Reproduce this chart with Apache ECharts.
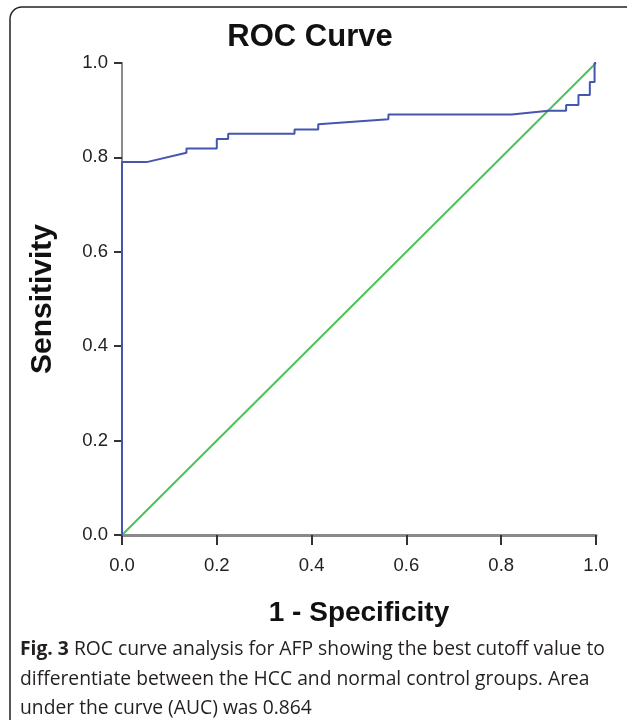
<!DOCTYPE html>
<html>
<head>
<meta charset="utf-8">
<script src="https://cdn.jsdelivr.net/npm/echarts@6/dist/echarts.min.js"></script>
<style>
html,body{margin:0;padding:0;background:#fff;}
#chart{width:627px;height:720px;}
</style>
</head>
<body>
<div id="chart"></div>
<script>
// ROC curve (1 - Specificity, Sensitivity)
const rocFpr = [0, 0, 0.052, 0.136, 0.136, 0.2, 0.2, 0.224, 0.224, 0.364, 0.364, 0.414, 0.414, 0.562, 0.562, 0.822, 0.9, 0.937, 0.937, 0.963, 0.963, 0.987, 0.987, 0.997, 0.997, 1];
const rocTpr = [0, 0.79, 0.79, 0.81, 0.819, 0.819, 0.839, 0.839, 0.85, 0.85, 0.859, 0.859, 0.87, 0.881, 0.891, 0.891, 0.899, 0.899, 0.911, 0.911, 0.932, 0.932, 0.96, 0.96, 1.0, 1.0];
// Reference (chance) line
const refX = [0, 1];
const refY = [0, 1];
const tickValues = [0, 0.2, 0.4, 0.6, 0.8, 1.0];
const titleText = 'ROC Curve';
const xTitle = '1 - Specificity';
const yTitle = 'Sensitivity';
const captionBold = 'Fig. 3';
const captionLines = [
  ' ROC curve analysis for AFP showing the best cutoff value to',
  'differentiate between the HCC and normal control groups. Area',
  'under the curve (AUC) was 0.864'
];

const chart = echarts.init(document.getElementById('chart'), null, {renderer: 'canvas'});

const axisCommon = {
  type: 'value', min: 0, max: 1, interval: 0.2,
  splitLine: {show: false},
  axisLine: {show: true, onZero: false, lineStyle: {color: '#8a8a8a', width: 2}},
  axisTick: {show: true, length: 10, lineStyle: {color: '#333', width: 2}},
  axisLabel: {
    color: '#222', fontFamily: 'Liberation Sans', fontSize: 18.5,
    formatter: v => v.toFixed(1)
  }
};

const option = {
  backgroundColor: '#fff',
  animation: false,
  title: {
    text: titleText, left: 305, top: 17, textAlign: 'center',
    textStyle: {fontFamily: 'Liberation Sans', fontWeight: 'bold', fontSize: 31, color: '#111'}
  },
  grid: {left: 122, right: 31, top: 63, bottom: 185, containLabel: false},
  xAxis: Object.assign({}, axisCommon, {
    name: xTitle, nameLocation: 'middle', nameGap: 64,
    nameTextStyle: {fontFamily: 'Liberation Sans', fontWeight: 'bold', fontSize: 28, color: '#111'},
    axisLine: {show: true, onZero: false, lineStyle: {color: '#8a8a8a', width: 3}},
    axisLabel: Object.assign({}, axisCommon.axisLabel, {margin: 21})
  }),
  yAxis: Object.assign({}, axisCommon, {
    name: yTitle, nameLocation: 'middle', nameGap: 64, nameRotate: 90,
    nameTextStyle: {fontFamily: 'Liberation Sans', fontWeight: 'bold', fontSize: 30, color: '#111'},
    axisTick: {show: true, length: 8, lineStyle: {color: '#333', width: 2}},
    axisLabel: Object.assign({}, axisCommon.axisLabel, {margin: 14})
  }),
  series: [
    {
      type: 'line', name: 'Reference', symbol: 'none', silent: true,
      data: refX.map((x, i) => [x, refY[i]]),
      lineStyle: {color: '#4cc35a', width: 2},
      z: 2
    },
    {
      type: 'line', name: 'AFP', symbol: 'none', silent: true,
      data: rocFpr.map((x, i) => [x, rocTpr[i]]),
      lineStyle: {color: '#4356b0', width: 2},
      z: 3
    }
  ],
  graphic: [
    {
      type: 'rect', silent: true, z: -1,
      shape: {x: 10, y: 7, width: 700, height: 800, r: [12, 0, 0, 0]},
      style: {fill: 'none', stroke: '#222', lineWidth: 1.5}
    },
    {
      type: 'text', left: 20, top: 635, silent: true,
      style: {
        text: '{b|' + captionBold + '}{r|' + captionLines[0] + '}\n{r|' + captionLines[1] + '}\n{r|' + captionLines[2] + '}',
        lineHeight: 29.5,
        rich: {
          b: {fontFamily: 'Open Sans', fontWeight: 'bold', fontSize: 19.3, fill: '#231f20', lineHeight: 29.5},
          r: {fontFamily: 'Open Sans', fontSize: 19.3, fill: '#231f20', lineHeight: 29.5}
        }
      }
    }
  ]
};
chart.setOption(option);
</script>
</body>
</html>
